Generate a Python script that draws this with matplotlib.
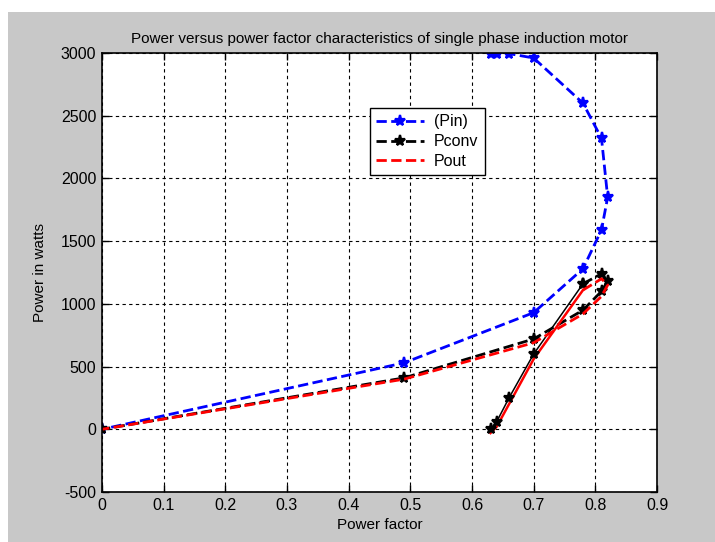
import matplotlib
matplotlib.use("Agg")
import matplotlib.pyplot as plt
from matplotlib.patches import Rectangle

plt.rcParams['font.family'] = ['Liberation Sans', 'DejaVu Sans']
plt.rcParams['axes.unicode_minus'] = False

# Data
pf = [0.63, 0.64, 0.66, 0.70, 0.78, 0.81, 0.82, 0.81, 0.78, 0.70, 0.49, 0.0]
pin = [2990, 2990, 2995, 2960, 2600, 2320, 1850, 1590, 1280, 930, 530, 0]
pconv = [0, 60, 250, 600, 1160, 1240, 1180, 1100, 950, 720, 410, 0]
pout = [-30, 20, 200, 560, 1110, 1200, 1150, 1060, 920, 690, 400, 0]

xticks = [0, 0.1, 0.2, 0.3, 0.4, 0.5, 0.6, 0.7, 0.8, 0.9]
yticks = [-500, 0, 500, 1000, 1500, 2000, 2500, 3000]

W, H = 715, 542
fig = plt.figure(figsize=(W / 100, H / 100), dpi=100, facecolor='white')
fig.patches.append(Rectangle((8 / W, 0), 1 - 8 / W, (H - 12) / H,
                             transform=fig.transFigure, facecolor='#c8c8c8',
                             edgecolor='none', zorder=-10))

ax = fig.add_axes([102 / W, (H - 492) / H, (657 - 102) / W, (492 - 53) / H])
ax.set_facecolor('white')

mk = dict(marker='*', ms=8, mew=1.6)
split = 5
ax.plot(pf, pin, '--', color='blue', lw=2, label='(Pin)', **mk)
ax.plot(pf[split - 1:], pconv[split - 1:], '--', color='black', lw=2,
        label='Pconv', **mk)
ax.plot(pf[:split], pout[:split], '-', color='red', lw=1.8)
ax.plot(pf[:split], pconv[:split], '-', color='black', lw=1.1, **mk)
ax.plot(pf[split - 1:], pout[split - 1:], '--', color='red', lw=2, label='Pout')

ax.set_xlim(0, 0.9)
ax.set_ylim(-500, 3000)
ax.set_xticks(xticks)
ax.set_xticklabels([('%g' % t) for t in xticks])
ax.set_yticks(yticks)
ax.grid(True, color='black', linestyle=(0, (3, 3)), linewidth=0.8)
ax.tick_params(direction='in', top=True, right=True, length=5, width=1,
               labelsize=11.5, pad=4)
for s in ax.spines.values():
    s.set_linewidth(1.2)

ax.set_title('Power versus power factor characteristics of single phase induction motor',
             fontsize=11, pad=7)
ax.set_xlabel('Power factor', fontsize=11, labelpad=4)
ax.set_ylabel('Power in watts', fontsize=11, labelpad=10)

handles, labels = ax.get_legend_handles_labels()
leg = ax.legend(handles, labels, loc='upper left',
                bbox_to_anchor=((370 - 102) / (657 - 102), 1 - (108 - 53) / (492 - 53)),
                borderaxespad=0,
                fancybox=False, framealpha=1, edgecolor='black', fontsize=11.5,
                handlelength=3.0, borderpad=0.4, labelspacing=0.3,
                handletextpad=0.6)
leg.get_frame().set_linewidth(1)

fig.savefig('out.png', dpi=100, facecolor=fig.get_facecolor())
